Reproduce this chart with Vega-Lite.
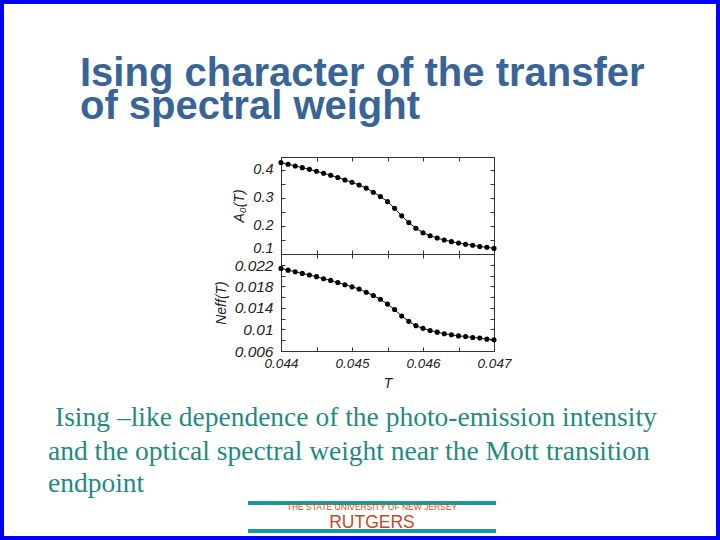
{
  "$schema": "https://vega.github.io/schema/vega-lite/v6.json",
  "width": 720,
  "height": 540,
  "padding": 0,
  "autosize": {"type": "none"},
  "background": "white",
  "config": {
    "view": {"stroke": "#0000ff", "strokeWidth": 8},
    "axis": {
      "grid": false,
      "domainColor": "#333333",
      "tickColor": "#333333",
      "tickSize": -4,
      "labelPadding": 12,
      "labelFont": "Liberation Sans",
      "labelFontStyle": "italic",
      "labelFontSize": 14,
      "labelColor": "#222222",
      "labelFlush": false,
      "labelOverlap": false,
      "titleFont": "Liberation Sans",
      "titleFontStyle": "italic",
      "titleFontWeight": "normal",
      "titleFontSize": 14,
      "titleColor": "#222222"
    }
  },
  "datasets": {
    "top": [
      {"T": 0.0440, "A": 0.426}, {"T": 0.0441, "A": 0.420}, {"T": 0.0442, "A": 0.414},
      {"T": 0.0443, "A": 0.408}, {"T": 0.0444, "A": 0.402}, {"T": 0.0445, "A": 0.395},
      {"T": 0.0446, "A": 0.388}, {"T": 0.0447, "A": 0.381}, {"T": 0.0448, "A": 0.373},
      {"T": 0.0449, "A": 0.364}, {"T": 0.0450, "A": 0.356}, {"T": 0.0451, "A": 0.346},
      {"T": 0.0452, "A": 0.335}, {"T": 0.0453, "A": 0.320}, {"T": 0.0454, "A": 0.305},
      {"T": 0.0455, "A": 0.287}, {"T": 0.0456, "A": 0.263}, {"T": 0.0457, "A": 0.236},
      {"T": 0.0458, "A": 0.212}, {"T": 0.0459, "A": 0.192}, {"T": 0.0460, "A": 0.176},
      {"T": 0.0461, "A": 0.165}, {"T": 0.0462, "A": 0.157}, {"T": 0.0463, "A": 0.150},
      {"T": 0.0464, "A": 0.144}, {"T": 0.0465, "A": 0.139}, {"T": 0.0466, "A": 0.135},
      {"T": 0.0467, "A": 0.131}, {"T": 0.0468, "A": 0.127}, {"T": 0.0469, "A": 0.124},
      {"T": 0.0470, "A": 0.120}
    ],
    "bot": [
      {"T": 0.0440, "N": 0.02133}, {"T": 0.0441, "N": 0.0210}, {"T": 0.0442, "N": 0.0207},
      {"T": 0.0443, "N": 0.0204}, {"T": 0.0444, "N": 0.0201}, {"T": 0.0445, "N": 0.0198},
      {"T": 0.0446, "N": 0.0194}, {"T": 0.0447, "N": 0.0191}, {"T": 0.0448, "N": 0.0187},
      {"T": 0.0449, "N": 0.0183}, {"T": 0.0450, "N": 0.0179}, {"T": 0.0451, "N": 0.0175},
      {"T": 0.0452, "N": 0.0169}, {"T": 0.0453, "N": 0.0163}, {"T": 0.0454, "N": 0.0156},
      {"T": 0.0455, "N": 0.0147}, {"T": 0.0456, "N": 0.0137}, {"T": 0.0457, "N": 0.0125},
      {"T": 0.0458, "N": 0.0115}, {"T": 0.0459, "N": 0.0107}, {"T": 0.0460, "N": 0.0102},
      {"T": 0.0461, "N": 0.0098}, {"T": 0.0462, "N": 0.0095}, {"T": 0.0463, "N": 0.0092},
      {"T": 0.0464, "N": 0.0090}, {"T": 0.0465, "N": 0.0088}, {"T": 0.0466, "N": 0.0087},
      {"T": 0.0467, "N": 0.0085}, {"T": 0.0468, "N": 0.0084}, {"T": 0.0469, "N": 0.0082},
      {"T": 0.0470, "N": 0.0081}
    ],
    "one": [{"k": 1}]
  },
  "layer": [
    {
      "data": {"name": "top"},
      "encoding": {
        "x": {"field": "T", "type": "quantitative",
          "scale": {"domain": [0.044, 0.047], "range": [281, 494], "nice": false, "zero": false},
          "axis": {"orient": "bottom", "offset": -286, "values": [0.044, 0.0445, 0.045, 0.0455, 0.046, 0.0465, 0.047], "labels": false, "title": null}},
        "y": {"field": "A", "type": "quantitative",
          "scale": {"domain": [0.1, 0.446], "range": [254, 157], "nice": false, "zero": false},
          "axis": {"orient": "left", "offset": -281, "values": [0.1, 0.15, 0.2, 0.25, 0.3, 0.35, 0.4],
            "labelExpr": "round(datum.value*100) % 10 == 0 ? format(datum.value, '.1f') : ''",
            "labelFontSize": 14.5,
            "labelBaseline": {"condition": {"test": "datum.value < 0.12", "value": "bottom"}, "value": "middle"},
            "labelOffset": {"condition": {"test": "datum.value < 0.12", "value": 1}, "value": 0},
            "title": "A₀(T)", "titlePadding": 6}}
      },
      "layer": [
        {"mark": {"type": "line", "color": "#111111", "strokeWidth": 1}},
        {"mark": {"type": "circle", "color": "#000000", "size": 26, "opacity": 1}}
      ]
    },
    {
      "data": {"name": "top"},
      "mark": {"type": "point", "opacity": 0},
      "encoding": {
        "x": {"field": "T", "type": "quantitative",
          "scale": {"domain": [0.044, 0.047], "range": [281, 494], "nice": false, "zero": false},
          "axis": {"orient": "top", "offset": -157, "values": [0.044, 0.0445, 0.045, 0.0455, 0.046, 0.0465, 0.047], "labels": false, "title": null}},
        "y": {"field": "A", "type": "quantitative",
          "scale": {"domain": [0.1, 0.446], "range": [254, 157], "nice": false, "zero": false},
          "axis": {"orient": "right", "offset": -226, "values": [0.1, 0.15, 0.2, 0.25, 0.3, 0.35, 0.4], "labels": false, "title": null}}
      }
    },
    {
      "data": {"name": "bot"},
      "encoding": {
        "x": {"field": "T", "type": "quantitative",
          "scale": {"domain": [0.044, 0.047], "range": [281, 494], "nice": false, "zero": false},
          "axis": {"orient": "bottom", "offset": -189, "values": [0.044, 0.0445, 0.045, 0.0455, 0.046, 0.0465, 0.047],
            "labelExpr": "round(datum.value*10000) % 10 == 0 ? format(datum.value, '.3f') : ''",
            "labelFontSize": 13.5, "labelPadding": 9, "title": "T", "titlePadding": 7}},
        "y": {"field": "N", "type": "quantitative",
          "scale": {"domain": [0.006, 0.024], "range": [351, 254], "nice": false, "zero": false},
          "axis": {"orient": "left", "offset": -281, "values": [0.006, 0.008, 0.01, 0.012, 0.014, 0.016, 0.018, 0.02, 0.022],
            "labelExpr": "(round(datum.value*1000) - 6) % 4 == 0 ? format(datum.value, '~g') : ''",
            "labelFontSize": 15.5,
            "labelOffset": {"condition": {"test": "datum.value > 0.021", "value": 1}, "value": 0},
            "title": "Neff(T)", "titlePadding": 6}}
      },
      "layer": [
        {"mark": {"type": "line", "color": "#111111", "strokeWidth": 1}},
        {"mark": {"type": "circle", "color": "#000000", "size": 26, "opacity": 1}}
      ]
    },
    {
      "data": {"name": "bot"},
      "mark": {"type": "point", "opacity": 0},
      "encoding": {
        "x": {"field": "T", "type": "quantitative",
          "scale": {"domain": [0.044, 0.047], "range": [281, 494], "nice": false, "zero": false},
          "axis": {"orient": "top", "offset": -254, "values": [0.044, 0.0445, 0.045, 0.0455, 0.046, 0.0465, 0.047], "labels": false, "title": null}},
        "y": {"field": "N", "type": "quantitative",
          "scale": {"domain": [0.006, 0.024], "range": [351, 254], "nice": false, "zero": false},
          "axis": {"orient": "right", "offset": -226, "values": [0.008, 0.01, 0.012, 0.014, 0.016, 0.018, 0.02, 0.022], "labels": false, "title": null}}
      }
    },
    {
      "data": {"name": "one"},
      "mark": {"type": "text", "text": "Ising character of the transfer", "align": "left", "baseline": "alphabetic",
        "font": "Liberation Sans", "fontWeight": "bold", "fontSize": 40, "color": "#386497"},
      "encoding": {"x": {"value": 80}, "y": {"value": 86}}
    },
    {
      "data": {"name": "one"},
      "mark": {"type": "text", "text": "of spectral weight", "align": "left", "baseline": "alphabetic",
        "font": "Liberation Sans", "fontWeight": "bold", "fontSize": 40, "color": "#386497"},
      "encoding": {"x": {"value": 80}, "y": {"value": 119}}
    },
    {
      "data": {"name": "one"},
      "mark": {"type": "text", "text": "Ising –like dependence of the photo-emission intensity", "align": "left", "baseline": "alphabetic",
        "font": "Liberation Serif", "fontSize": 27.5, "color": "#1f8a82"},
      "encoding": {"x": {"value": 55}, "y": {"value": 426}}
    },
    {
      "data": {"name": "one"},
      "mark": {"type": "text", "text": "and the optical spectral weight near the Mott transition", "align": "left", "baseline": "alphabetic",
        "font": "Liberation Serif", "fontSize": 27.5, "color": "#1f8a82"},
      "encoding": {"x": {"value": 48}, "y": {"value": 460}}
    },
    {
      "data": {"name": "one"},
      "mark": {"type": "text", "text": "endpoint", "align": "left", "baseline": "alphabetic",
        "font": "Liberation Serif", "fontSize": 27.5, "color": "#1f8a82"},
      "encoding": {"x": {"value": 48}, "y": {"value": 492}}
    },
    {
      "data": {"name": "one"},
      "mark": {"type": "rule", "color": "#1a9a96", "strokeWidth": 4},
      "encoding": {"x": {"value": 248}, "x2": {"value": 496}, "y": {"value": 503}, "y2": {"value": 503}}
    },
    {
      "data": {"name": "one"},
      "mark": {"type": "rule", "color": "#1a9a96", "strokeWidth": 4},
      "encoding": {"x": {"value": 248}, "x2": {"value": 496}, "y": {"value": 531}, "y2": {"value": 531}}
    },
    {
      "data": {"name": "one"},
      "mark": {"type": "text", "text": "THE STATE UNIVERSITY OF NEW JERSEY", "align": "center", "baseline": "alphabetic",
        "font": "Liberation Sans", "fontSize": 8.5, "color": "#c8502a"},
      "encoding": {"x": {"value": 372}, "y": {"value": 510}}
    },
    {
      "data": {"name": "one"},
      "mark": {"type": "text", "text": "RUTGERS", "align": "center", "baseline": "alphabetic",
        "font": "Liberation Sans", "fontSize": 17.5, "color": "#c44a22"},
      "encoding": {"x": {"value": 372}, "y": {"value": 528}}
    }
  ],
  "resolve": {
    "scale": {"x": "independent", "y": "independent"},
    "axis": {"x": "independent", "y": "independent"}
  }
}
